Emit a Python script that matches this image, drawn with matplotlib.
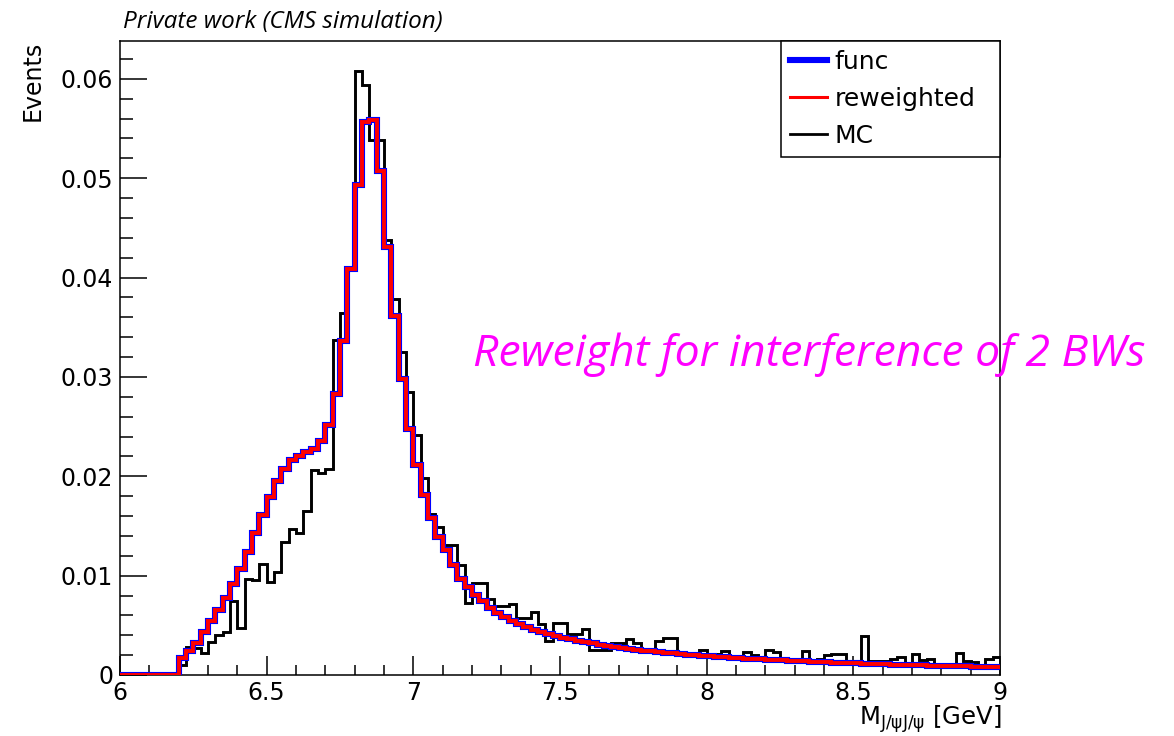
import numpy as np
import matplotlib
matplotlib.use("Agg")
import matplotlib.pyplot as plt
from matplotlib.lines import Line2D
from matplotlib.ticker import MultipleLocator

W, H, DPI = 1174, 736, 100

# Histogram binning: 120 bins of 25 MeV between 6 and 9 GeV
x_lo, x_hi, n_bins = 6.0, 9.0, 120
bin_edges = np.linspace(x_lo, x_hi, n_bins + 1)

# Bin contents (in units of 1e-3 events)
func_vals = [
    0, 0, 0, 0, 0, 0, 0, 0,
    1.7, 2.45, 3.2, 4.3, 5.4, 6.55, 7.7, 9.2, 10.7, 12.4,
    14.3, 16.1, 17.9, 19.5, 20.7, 21.6, 22.05, 22.4, 22.7, 23.5,
    25.2, 28.3, 33.6, 40.9, 49.3, 55.6, 55.9, 50.7, 43.1, 36.1,
    29.8, 24.8, 21.1, 18.1, 15.8, 13.9, 12.6, 11.1, 9.7, 8.9,
    8.05, 7.4, 6.7, 6.2, 5.8, 5.4, 5.1, 4.8, 4.55, 4.3,
    4.1, 3.9, 3.75, 3.6, 3.45, 3.3, 3.2, 3.05, 2.95, 2.85,
    2.75, 2.65, 2.55, 2.45, 2.4, 2.3, 2.25, 2.2, 2.1, 2.05,
    2.0, 1.95, 1.9, 1.85, 1.8, 1.75, 1.7, 1.65, 1.6, 1.58,
    1.55, 1.5, 1.47, 1.44, 1.4, 1.37, 1.34, 1.31, 1.28, 1.25,
    1.22, 1.2, 1.17, 1.15, 1.12, 1.1, 1.08, 1.05, 1.03, 1.01,
    0.99, 0.97, 0.95, 0.93, 0.91, 0.89, 0.87, 0.86, 0.84, 0.82,
    0.81, 0.79,
]

reweighted_vals = [
    0, 0, 0, 0, 0, 0, 0, 0,
    1.7, 2.45, 3.2, 4.3, 5.4, 6.55, 7.7, 9.2, 10.7, 12.4,
    14.3, 16.1, 17.9, 19.5, 20.7, 21.6, 22.05, 22.4, 22.7, 23.5,
    25.2, 28.3, 33.6, 40.9, 49.3, 55.6, 55.9, 50.7, 43.1, 36.1,
    29.8, 24.8, 21.1, 18.1, 15.8, 13.9, 12.6, 11.1, 9.7, 8.9,
    8.05, 7.4, 6.7, 6.2, 5.8, 5.4, 5.1, 4.8, 4.55, 4.3,
    4.1, 3.9, 3.75, 3.6, 3.45, 3.3, 3.2, 3.05, 2.95, 2.85,
    2.75, 2.65, 2.55, 2.45, 2.4, 2.3, 2.25, 2.2, 2.1, 2.05,
    2.0, 1.95, 1.9, 1.85, 1.8, 1.75, 1.7, 1.65, 1.6, 1.58,
    1.55, 1.5, 1.47, 1.44, 1.4, 1.37, 1.34, 1.31, 1.28, 1.25,
    1.22, 1.2, 1.17, 1.15, 1.12, 1.1, 1.08, 1.05, 1.03, 1.01,
    0.99, 0.97, 0.95, 0.93, 0.91, 0.89, 0.87, 0.86, 0.84, 0.82,
    0.81, 0.79,
]

mc_vals = [
    0, 0, 0, 0, 0, 0, 0, 0,
    1.0, 2.8, 2.7, 2.2, 3.35, 4.0, 4.35, 7.4, 4.7, 9.7,
    9.55, 11.2, 9.4, 10.4, 13.4, 14.7, 14.25, 16.5, 20.6, 20.35,
    20.7, 33.7, 36.4, 41.0, 60.8, 59.4, 53.8, 53.8, 43.8, 37.8,
    32.5, 28.5, 24.2, 19.8, 16.2, 14.9, 13.1, 13.1, 11.1, 7.2,
    9.3, 9.3, 7.6, 6.9, 6.9, 7.1, 5.7, 5.7, 6.3, 5.1,
    3.4, 5.2, 5.2, 4.1, 4.1, 4.6, 2.5, 2.5, 2.5, 3.2,
    3.2, 3.6, 3.2, 2.5, 2.5, 3.4, 3.7, 3.7, 2.1, 2.1,
    2.1, 2.5, 2.15, 2.15, 2.4, 1.6, 1.6, 2.3, 2.0, 1.6,
    2.5, 2.3, 1.45, 1.45, 1.45, 2.4, 1.45, 1.6, 2.0, 2.1,
    2.1, 1.15, 1.3, 3.9, 1.45, 1.45, 1.45, 1.6, 1.8, 1.1,
    2.1, 1.5, 1.6, 1.0, 1.1, 1.0, 2.2, 1.4, 1.3, 0.9,
    1.6, 1.8,
]

y_ticks = [0, 0.01, 0.02, 0.03, 0.04, 0.05, 0.06]
y_tick_labels = ["0", "0.01", "0.02", "0.03", "0.04", "0.05", "0.06"]
x_ticks = [6, 6.5, 7, 7.5, 8, 8.5, 9]
x_tick_labels = ["6", "6.5", "7", "7.5", "8", "8.5", "9"]

series_labels = ["func", "reweighted", "MC"]
series_colors = ["#0000ff", "#ff0000", "#000000"]

plt.rcParams["font.family"] = ["DejaVu Sans"]
plt.rcParams["mathtext.fontset"] = "dejavusans"

fig = plt.figure(figsize=(W / DPI, H / DPI), dpi=DPI)
fig.patch.set_facecolor("white")

# frame in pixel coordinates: left 120, right 1000, top 41, bottom 675
ax = fig.add_axes([120 / W, 1 - 675 / H, 880 / W, 634 / H])

scale = 1e-3
ax.stairs(np.array(mc_vals) * scale, bin_edges, baseline=None,
          color=series_colors[2], lw=2.1, zorder=2)
ax.stairs(np.array(func_vals) * scale, bin_edges, baseline=None,
          color=series_colors[0], lw=4.4, zorder=3)
ax.stairs(np.array(reweighted_vals) * scale, bin_edges, baseline=None,
          color=series_colors[1], lw=2.8, zorder=4)

ax.set_xlim(x_lo, x_hi)
ax.set_ylim(0, 0.0638)

ax.set_xticks(x_ticks)
ax.set_xticklabels(x_tick_labels)
ax.set_yticks(y_ticks)
ax.set_yticklabels(y_tick_labels)
ax.xaxis.set_minor_locator(MultipleLocator(0.1))
ax.yaxis.set_minor_locator(MultipleLocator(0.002))

ax.tick_params(axis="both", which="both", direction="in", top=False, right=False,
               width=1.1, colors="black", labelsize=17)
ax.tick_params(axis="x", which="major", length=13.5, pad=4)
ax.tick_params(axis="x", which="minor", length=7)
ax.tick_params(axis="y", which="major", length=19.5, pad=5)
ax.tick_params(axis="y", which="minor", length=9.5)
for sp in ax.spines.values():
    sp.set_linewidth(1.1)
    sp.set_color("black")

# axis titles, ROOT-style: placed at the far ends of the axes
fig.text(33 / W, 1 - 41 / H, "Events", rotation=90, ha="center", va="top",
         fontsize=17)
fig.text(1002 / W, 1 - 725 / H, r"M$_{\mathregular{J/ψJ/ψ}}$ [GeV]",
         ha="right", va="baseline", fontsize=17.5)

# legend with a plain rectangular frame in the upper-right corner
handles = [Line2D([], [], color=series_colors[0], lw=4.4),
           Line2D([], [], color=series_colors[1], lw=2.2),
           Line2D([], [], color=series_colors[2], lw=2.0)]
leg = ax.legend(handles, series_labels, loc="upper left",
                bbox_to_anchor=(0.751, 0.815, 0.249, 0.185), mode="expand",
                borderaxespad=0, fancybox=False, frameon=True, framealpha=1,
                edgecolor="black", fontsize=18, handlelength=1.5,
                handletextpad=0.3, labelspacing=0.52, borderpad=0.35)
leg.get_frame().set_linewidth(1.1)
leg.set_zorder(5)

fig.text(123 / W, 1 - 28 / H, "Private work (CMS simulation)",
         family=["Open Sans", "DejaVu Sans"], style="italic", fontsize=17.5,
         ha="left", va="baseline")
fig.text(473 / W, 1 - 366 / H, "Reweight for interference of 2 BWs",
         family=["Open Sans", "DejaVu Sans"], style="italic", fontsize=32,
         color="#ff00ff", ha="left", va="baseline")

fig.savefig("out.png", dpi=DPI)
